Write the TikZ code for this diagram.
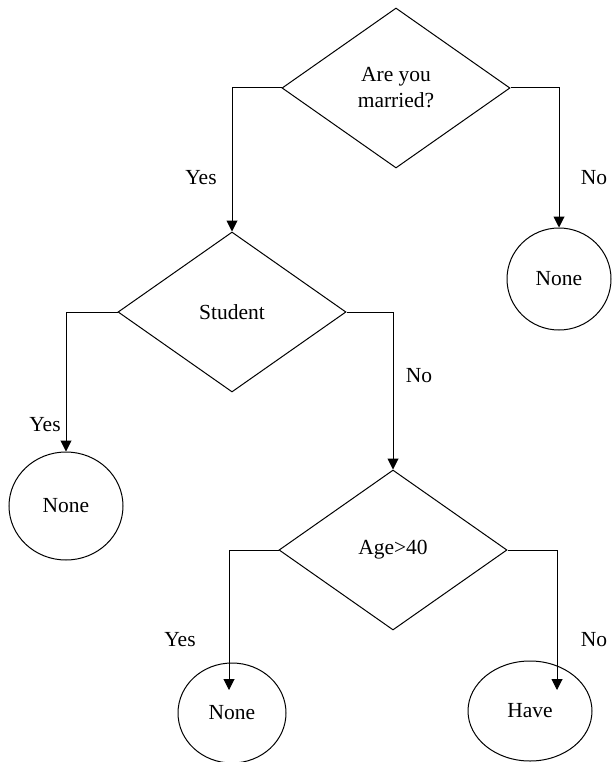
\documentclass[tikz,border=0pt]{standalone}
\usepackage{fontspec}
\setmainfont{Liberation Serif}
\usetikzlibrary{shapes.geometric,arrows.meta}
\begin{document}
\begin{tikzpicture}[x=1pt,y=-1pt,
  every node/.style={font=\fontsize{21.5}{26}\selectfont},
  decision/.style={draw,diamond,line width=1pt,inner sep=0pt,
    minimum width=228pt,minimum height=160pt,aspect=1.425,align=center},
  leaf/.style={draw,ellipse,line width=1pt,inner sep=0pt},
  flow/.style={draw,line width=1pt,-{Triangle[width=11pt,length=11pt]}},
  lbl/.style={inner sep=0pt}]
\useasboundingbox (0,0) rectangle (611,762);

% decisions
\node[decision] (q1) at (396,88) {Are you\\married?};
\node[decision] (q2) at (232,312) {Student};
\node[decision] (q3) at (393,550) {Age>40};

% leaves
\node[leaf,minimum width=104pt,minimum height=102pt] (l1) at (559,279) {None};
\node[leaf,minimum width=114pt,minimum height=108pt] (l2) at (66,506) {None};
\node[leaf,minimum width=108pt,minimum height=100pt] (l3) at (232,713) {None};
\node[leaf,minimum width=124pt,minimum height=100pt] (l4) at (530,711) {Have};

% arrow ends inside the bottom leaves
\coordinate (e3) at (229,690);
\coordinate (e4) at (557,690);

% connectors
\draw[flow] (q1.west) -| (q2.north);
\draw[flow] (q1.east) -| (l1.north);
\draw[flow] (q2.west) -| (l2.north);
\draw[flow] (q2.east) -| (q3.north);
\draw[flow] (q3.west) -| (e3);
\draw[flow] (q3.east) -| (e4);

% branch labels
\node[lbl] (y1) at (201,178) {Yes};
\node[lbl] (n1) at (594,178) {No};
\node[lbl] (y2) at (45,425) {Yes};
\node[lbl] (n2) at (419,376) {No};
\node[lbl] (y3) at (180,640) {Yes};
\node[lbl] (n3) at (594,640) {No};
\end{tikzpicture}
\end{document}
